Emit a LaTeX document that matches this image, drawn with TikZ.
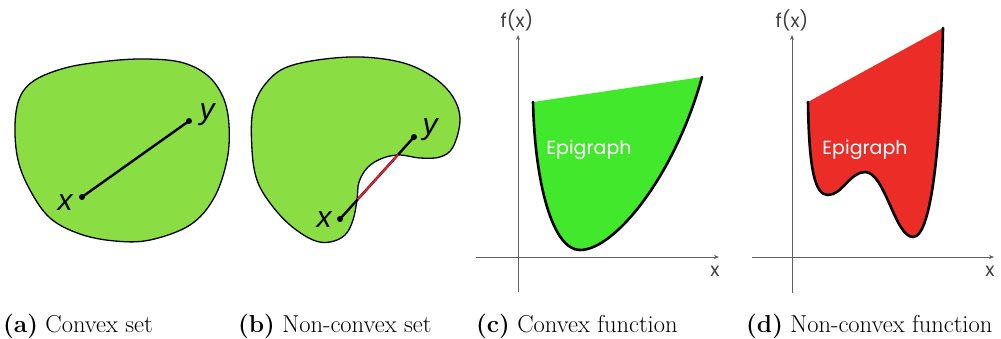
\documentclass[tikz,border=0pt]{standalone}
\usepackage{fontspec}
\newfontfamily\popfont{Poppins}
\newfontfamily\varfont{Liberation Sans}
\usetikzlibrary{arrows.meta,positioning,calc}
\definecolor{setgreen}{RGB}{139,221,68}
\definecolor{epigreen}{RGB}{65,232,43}
\definecolor{epired}{RGB}{236,44,39}
\definecolor{segred}{RGB}{220,30,45}
\definecolor{axisgrey}{RGB}{95,95,95}

\begin{document}
\begin{tikzpicture}[
    x=1pt,y=-1pt,
    blob/.style={fill=setgreen, draw=black, line width=1.3pt},
    segm/.style={line width=2.4pt, line cap=round},
    dot/.style={circle, fill=black, inner sep=0pt, minimum size=6pt},
    varlabel/.style={font=\varfont\itshape\fontsize{30}{30}\selectfont, inner sep=0pt},
    axis/.style={-{Stealth[length=5pt,width=4pt]}, draw=axisgrey, line width=0.9pt},
    axlabel/.style={font=\popfont\fontsize{19}{19}\selectfont, text=black!75, inner sep=0pt},
    graph/.style={line width=2.6pt, line cap=round},
    epitext/.style={font=\popfont\fontsize{19}{19}\selectfont, text=white, inner sep=0pt},
    caption/.style={font=\fontsize{24.5}{24.5}\selectfont, anchor=base west, inner sep=0pt}
  ]
    % (a) Konvexe Menge
    \draw[blob] plot[smooth cycle, tension=0.6] coordinates {
      (15,125) (20,97) (35,80) (65,68) (100,62) (140,59) (180,62) (207,75)
      (223,97) (229,125) (227,160) (214,198) (190,225) (150,240) (115,241)
      (80,234) (50,218) (30,190) (18,160)};
    \node[dot] (xa) at (82,197) {};
    \node[dot] (ya) at (189,121) {};
    \draw[segm] (xa.center) -- (ya.center);
    \node[varlabel] (xalab) at (65,203) {x};
    \node[varlabel] (yalab) at (207,115) {y};

    % (b) Nicht-konvexe Menge
    \draw[blob] plot[smooth cycle, tension=0.6] coordinates {
      (252,150) (253,110) (267,82) (293,65) (350,57) (400,62) (433,77)
      (453,97) (460,120) (453,147) (440,157) (420,158) (400,155) (383,158)
      (368,167) (359,182) (357,200) (353,220) (345,235) (330,242) (313,240)
      (290,225) (270,203) (257,180)};
    \node[dot] (xb) at (340,219) {};
    \node[dot] (yb) at (414,137) {};
    \draw[segm] (xb.center) -- (yb.center);
    \draw[segred, line width=2pt] ($(xb.center)!0.24!(yb.center)$) -- ($(xb.center)!0.785!(yb.center)$);
    \node[varlabel] (xblab) at (324,220) {x};
    \node[varlabel] (yblab) at (430,130) {y};

    % (c) Konvexe Funktion
    \coordinate (c-b) at (518,292);
    \coordinate (c-t) at (518,35);
    \coordinate (c-l) at (476,257);
    \coordinate (c-r) at (719,257);
    \draw[axis] (c-b) -- (c-t);
    \draw[axis] (c-l) -- (c-r);
    \node[axlabel] (c-fx) at (517,20) {f(x)};
    \node[axlabel] (c-x)  at (715,271) {x};
    \coordinate (c-s) at (533,102);
    \coordinate (c-m) at (580,250);
    \coordinate (c-e) at (702,77);
    \fill[epigreen] (c-s) .. controls (535,185) and (553,250) .. (c-m)
      .. controls (615,250) and (675,175) .. (c-e) -- cycle;
    \draw[graph] (c-s) .. controls (535,185) and (553,250) .. (c-m)
      .. controls (615,250) and (675,175) .. (c-e);
    \node[epitext] (c-epi) at (589,150) {Epigraph};

    % (d) Nicht-konvexe Funktion
    \coordinate (d-b) at (792,293);
    \coordinate (d-t) at (792,35);
    \coordinate (d-l) at (752,257);
    \coordinate (d-r) at (994,257);
    \draw[axis] (d-b) -- (d-t);
    \draw[axis] (d-l) -- (d-r);
    \node[axlabel] (d-fx) at (792,20) {f(x)};
    \node[axlabel] (d-x)  at (990,271) {x};
    \coordinate (d-s)  at (808,102);
    \coordinate (d-m1) at (828,195);
    \coordinate (d-h)  at (865,172);
    \coordinate (d-m2) at (913,237);
    \coordinate (d-e)  at (943,28);
    \fill[epired] (d-s) .. controls (809,170) and (815,195) .. (d-m1)
      .. controls (842,195) and (850,172) .. (d-h)
      .. controls (885,172) and (895,237) .. (d-m2)
      .. controls (932,237) and (941,140) .. (d-e) -- cycle;
    \draw[graph] (d-s) .. controls (809,170) and (815,195) .. (d-m1)
      .. controls (842,195) and (850,172) .. (d-h)
      .. controls (885,172) and (895,237) .. (d-m2)
      .. controls (932,237) and (941,140) .. (d-e);
    \node[epitext] (d-epi) at (865,150) {Epigraph};

    % Unterschriften
    \node[caption] (cap-a) at (3,332)   {\textbf{(a)} Convex set};
    \node[caption] (cap-b) at (238,332) {\textbf{(b)} Non-convex set};
    \node[caption] (cap-c) at (476,332) {\textbf{(c)} Convex function};
    \node[caption] (cap-d) at (746,332) {\textbf{(d)} Non-convex function};

    % Bounding box
    \useasboundingbox (0,0) rectangle (1001,338);
  \end{tikzpicture}
\end{document}
